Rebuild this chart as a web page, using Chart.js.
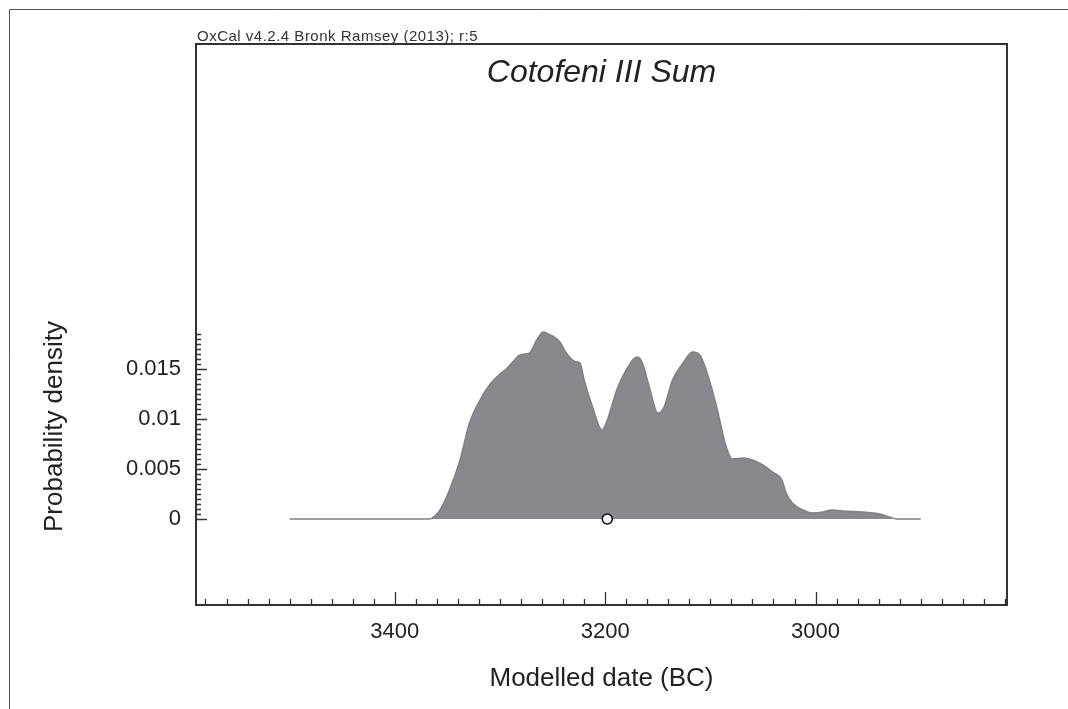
<!DOCTYPE html>
<html>
<head>
<meta charset="utf-8">
<script src="https://cdn.jsdelivr.net/npm/chart.js@4.4.1/dist/chart.umd.min.js"></script>
<style>
  html, body { margin: 0; padding: 0; background: #ffffff; }
  #wrap { width: 1068px; height: 709px; position: relative; }
</style>
</head>
<body>
<div id="wrap"><canvas id="c" width="1068" height="709"></canvas></div>
<script>
// ---- data ----
const years = [3500, 3400, 3370, 3367, 3362, 3357, 3348, 3338, 3329, 3319, 3310, 3300, 3294, 3287, 3281, 3272, 3265, 3259, 3254, 3250, 3243, 3237, 3231, 3227, 3224, 3220, 3212, 3203, 3198, 3189, 3180, 3170, 3165, 3158, 3150, 3144, 3136, 3126, 3117, 3110, 3104, 3094, 3089, 3086, 3081, 3079, 3069, 3060, 3050, 3041, 3032, 3028, 3022, 3012, 3003, 2993, 2984, 2974, 2955, 2939, 2927, 2923, 2900];
const density = [0, 0, 0, 0, 0.0003, 0.0009, 0.0029, 0.0059, 0.0096, 0.0119, 0.0134, 0.0145, 0.0150, 0.0158, 0.0164, 0.0166, 0.0179, 0.0187, 0.0185, 0.0183, 0.0177, 0.0166, 0.0159, 0.0157, 0.0156, 0.0139, 0.0112, 0.0089, 0.0099, 0.0129, 0.0149, 0.0162, 0.0157, 0.0132, 0.0106, 0.0112, 0.0139, 0.0156, 0.0167, 0.0164, 0.0149, 0.0112, 0.0089, 0.0076, 0.0062, 0.0060, 0.0061, 0.0059, 0.0054, 0.0047, 0.0039, 0.0026, 0.0016, 0.0009, 0.0006, 0.0007, 0.0009, 0.0008, 0.0007, 0.0005, 0.0001, 0, 0];
const markerYear = [3198];
const markerValue = [0];
const xTickValues = [3400, 3200, 3000];
const yTickValues = [0, 0.005, 0.01, 0.015];
const xMinorStep = 20;
const yMinorStep = 0.0005;
const yMinorTop = 0.0185;
const chartTitle = 'Cotofeni III Sum';
const xTitle = 'Modelled date (BC)';
const yTitle = 'Probability density';
const credit = 'OxCal v4.2.4 Bronk Ramsey (2013); r:5';

const FONT = "'Liberation Sans', Arial, Helvetica, sans-serif";
const TEXT = '#222222';

const decor = {
  id: 'decor',
  beforeDraw(chart) {
    const ctx = chart.ctx;
    ctx.save();
    ctx.fillStyle = '#ffffff';
    ctx.fillRect(0, 0, chart.width, chart.height);
    // outer frame (top and left)
    ctx.strokeStyle = '#555555';
    ctx.lineWidth = 1;
    ctx.beginPath();
    ctx.moveTo(9.5, 709);
    ctx.lineTo(9.5, 9.5);
    ctx.lineTo(1068, 9.5);
    ctx.stroke();
    ctx.restore();
  },
  afterDraw(chart) {
    const ctx = chart.ctx;
    const a = chart.chartArea;
    const xs = chart.scales.x, ys = chart.scales.y;
    ctx.save();
    // plot box
    ctx.strokeStyle = '#333333';
    ctx.lineWidth = 2;
    ctx.strokeRect(a.left, a.top, a.right - a.left, a.bottom - a.top);
    // x ticks (inward)
    ctx.lineWidth = 1.3;
    ctx.beginPath();
    const x0 = Math.ceil(Math.min(xs.min, xs.max) / xMinorStep) * xMinorStep;
    for (let v = x0; v <= Math.max(xs.min, xs.max); v += xMinorStep) {
      const px = Math.round(xs.getPixelForValue(v)) + 0.5;
      const major = xTickValues.includes(v);
      ctx.moveTo(px, a.bottom);
      ctx.lineTo(px, a.bottom - (major ? 13 : 6));
    }
    // y ticks (inward)
    for (let i = 0; i * yMinorStep <= yMinorTop + 1e-9; i++) {
      const v = +(i * yMinorStep).toFixed(6);
      const py = Math.round(ys.getPixelForValue(v)) + 0.5;
      const major = yTickValues.some(t => Math.abs(t - v) < 1e-9);
      ctx.moveTo(a.left, py);
      ctx.lineTo(a.left + (major ? 11 : 5), py);
    }
    ctx.stroke();
    // chart title (italic, inside box)
    ctx.fillStyle = TEXT;
    ctx.textAlign = 'center';
    ctx.textBaseline = 'alphabetic';
    ctx.font = 'italic 32px ' + FONT;
    ctx.fillText(chartTitle, (a.left + a.right) / 2, a.top + 38);
    // credit line
    ctx.font = '15px ' + FONT;
    ctx.textAlign = 'left';
    ctx.fillStyle = '#333333';
    try { ctx.letterSpacing = '0.5px'; } catch (e) {}
    ctx.fillText(credit, a.left + 1, a.top - 3);
    try { ctx.letterSpacing = '0px'; } catch (e) {}
    // y axis title, centred on the ticked span
    const yc = (ys.getPixelForValue(0) + ys.getPixelForValue(yMinorTop)) / 2;
    ctx.translate(55, yc);
    ctx.rotate(-Math.PI / 2);
    ctx.font = '26px ' + FONT;
    ctx.fillStyle = TEXT;
    ctx.textAlign = 'center';
    ctx.textBaseline = 'middle';
    ctx.fillText(yTitle, 0, 0);
    ctx.restore();
  }
};

new Chart(document.getElementById('c'), {
  type: 'line',
  data: {
    datasets: [
      {
        label: 'marker',
        data: markerYear.map((x, i) => ({ x: x, y: markerValue[i] })),
        showLine: false,
        pointRadius: 5,
        pointBackgroundColor: '#ffffff',
        pointBorderColor: '#111111',
        pointBorderWidth: 1.6,
        order: 0
      },
      {
        label: 'Sum',
        data: years.map((x, i) => ({ x: x, y: density[i] })),
        fill: 'origin',
        backgroundColor: '#88898d',
        borderColor: '#808185',
        borderWidth: 1.5,
        pointRadius: 0,
        cubicInterpolationMode: 'monotone',
        order: 1
      }
    ]
  },
  options: {
    responsive: false,
    devicePixelRatio: 1,
    animation: false,
    layout: { padding: { left: 0, top: 44, right: 61, bottom: 0 } },
    plugins: { legend: { display: false }, tooltip: { enabled: false }, title: { display: false } },
    scales: {
      x: {
        type: 'linear',
        reverse: true,
        min: 2818,
        max: 3589,
        grid: { display: false, drawTicks: false },
        border: { display: false },
        afterBuildTicks(s) { s.ticks = xTickValues.map(v => ({ value: v })); },
        afterFit(s) { s.height = 104; },
        ticks: {
          padding: 14,
          color: TEXT,
          font: { family: FONT, size: 22 },
          callback: v => String(v)
        },
        title: {
          display: true,
          text: xTitle,
          color: TEXT,
          font: { family: FONT, size: 26 },
          padding: { top: 0, bottom: 15 }
        }
      },
      y: {
        type: 'linear',
        min: -0.0086,
        max: 0.0475,
        grid: { display: false, drawTicks: false },
        border: { display: false },
        afterBuildTicks(s) { s.ticks = yTickValues.map(v => ({ value: v })); },
        afterFit(s) { s.width = 196; },
        ticks: {
          padding: 15,
          color: TEXT,
          font: { family: FONT, size: 22 },
          callback: v => String(v)
        }
      }
    }
  },
  plugins: [decor]
});
</script>
</body>
</html>
